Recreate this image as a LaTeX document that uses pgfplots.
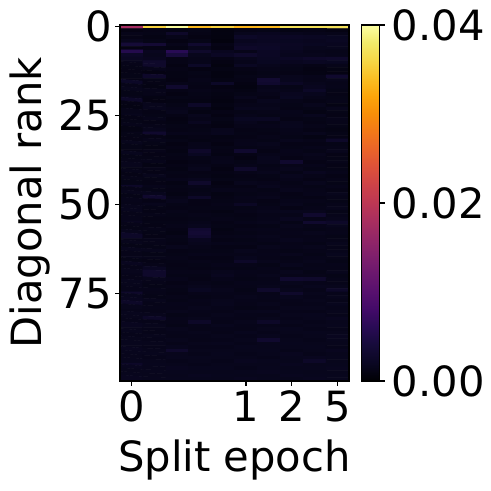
\documentclass[border=0pt]{standalone}
\usepackage{fontspec}
\setmainfont{DejaVu Sans}
\usepackage{pgfplots}
\usepackage{pgfplotstable}
\pgfplotsset{compat=1.18}

\pgfplotstableread[row sep=\\, header=false]{
0.0176\\ 0.0356\\ 0.0398\\ 0.0336\\ 0.0356\\ 0.0332\\ 0.0334\\ 0.0370\\ 0.0370\\ 0.0372\\
0.0010\\ 0.0012\\ 0.0011\\ 0.0013\\ 0.0008\\ 0.0012\\ 0.0013\\ 0.0011\\ 0.0012\\ 0.0010\\
0.0014\\ 0.0013\\ 0.0026\\ 0.0012\\ 0.0009\\ 0.0016\\ 0.0018\\ 0.0016\\ 0.0015\\ 0.0014\\
0.0012\\ 0.0011\\ 0.0014\\ 0.0010\\ 0.0008\\ 0.0024\\ 0.0021\\ 0.0022\\ 0.0020\\ 0.0019\\
0.0016\\ 0.0013\\ 0.0010\\ 0.0013\\ 0.0007\\ 0.0018\\ 0.0020\\ 0.0019\\ 0.0018\\ 0.0020\\
0.0038\\ 0.0036\\ 0.0014\\ 0.0030\\ 0.0012\\ 0.0022\\ 0.0023\\ 0.0021\\ 0.0019\\ 0.0018\\
0.0010\\ 0.0012\\ 0.0011\\ 0.0016\\ 0.0010\\ 0.0026\\ 0.0024\\ 0.0020\\ 0.0016\\ 0.0017\\
0.0055\\ 0.0018\\ 0.0060\\ 0.0028\\ 0.0018\\ 0.0014\\ 0.0022\\ 0.0018\\ 0.0015\\ 0.0014\\
0.0024\\ 0.0016\\ 0.0042\\ 0.0016\\ 0.0022\\ 0.0028\\ 0.0022\\ 0.0017\\ 0.0016\\ 0.0015\\
0.0020\\ 0.0018\\ 0.0012\\ 0.0014\\ 0.0012\\ 0.0016\\ 0.0020\\ 0.0022\\ 0.0026\\ 0.0028\\
0.0017\\ 0.0028\\ 0.0012\\ 0.0015\\ 0.0010\\ 0.0015\\ 0.0019\\ 0.0018\\ 0.0020\\ 0.0019\\
0.0014\\ 0.0028\\ 0.0010\\ 0.0024\\ 0.0008\\ 0.0020\\ 0.0016\\ 0.0014\\ 0.0012\\ 0.0014\\
0.0013\\ 0.0015\\ 0.0012\\ 0.0010\\ 0.0011\\ 0.0012\\ 0.0014\\ 0.0013\\ 0.0010\\ 0.0011\\
0.0012\\ 0.0010\\ 0.0011\\ 0.0013\\ 0.0009\\ 0.0011\\ 0.0013\\ 0.0012\\ 0.0011\\ 0.0010\\
0.0013\\ 0.0027\\ 0.0011\\ 0.0012\\ 0.0009\\ 0.0013\\ 0.0014\\ 0.0016\\ 0.0015\\ 0.0030\\
0.0012\\ 0.0013\\ 0.0010\\ 0.0014\\ 0.0011\\ 0.0012\\ 0.0033\\ 0.0017\\ 0.0014\\ 0.0016\\
0.0024\\ 0.0012\\ 0.0014\\ 0.0013\\ 0.0024\\ 0.0010\\ 0.0030\\ 0.0022\\ 0.0016\\ 0.0014\\
0.0014\\ 0.0011\\ 0.0030\\ 0.0012\\ 0.0010\\ 0.0009\\ 0.0015\\ 0.0013\\ 0.0018\\ 0.0015\\
0.0016\\ 0.0015\\ 0.0012\\ 0.0014\\ 0.0012\\ 0.0011\\ 0.0016\\ 0.0015\\ 0.0024\\ 0.0013\\
0.0013\\ 0.0014\\ 0.0010\\ 0.0013\\ 0.0011\\ 0.0013\\ 0.0014\\ 0.0018\\ 0.0017\\ 0.0012\\
0.0015\\ 0.0011\\ 0.0013\\ 0.0012\\ 0.0010\\ 0.0016\\ 0.0012\\ 0.0019\\ 0.0014\\ 0.0013\\
0.0025\\ 0.0010\\ 0.0011\\ 0.0011\\ 0.0009\\ 0.0012\\ 0.0017\\ 0.0014\\ 0.0012\\ 0.0014\\
0.0012\\ 0.0016\\ 0.0013\\ 0.0025\\ 0.0011\\ 0.0014\\ 0.0015\\ 0.0013\\ 0.0016\\ 0.0011\\
0.0011\\ 0.0017\\ 0.0015\\ 0.0013\\ 0.0009\\ 0.0017\\ 0.0016\\ 0.0012\\ 0.0013\\ 0.0016\\
0.0014\\ 0.0012\\ 0.0016\\ 0.0011\\ 0.0012\\ 0.0013\\ 0.0014\\ 0.0015\\ 0.0011\\ 0.0013\\
0.0016\\ 0.0013\\ 0.0012\\ 0.0016\\ 0.0010\\ 0.0015\\ 0.0013\\ 0.0014\\ 0.0017\\ 0.0012\\
0.0012\\ 0.0015\\ 0.0010\\ 0.0014\\ 0.0013\\ 0.0019\\ 0.0020\\ 0.0012\\ 0.0013\\ 0.0015\\
0.0013\\ 0.0012\\ 0.0011\\ 0.0018\\ 0.0011\\ 0.0016\\ 0.0013\\ 0.0016\\ 0.0012\\ 0.0014\\
0.0015\\ 0.0014\\ 0.0013\\ 0.0012\\ 0.0010\\ 0.0014\\ 0.0015\\ 0.0017\\ 0.0014\\ 0.0013\\
0.0011\\ 0.0016\\ 0.0012\\ 0.0013\\ 0.0016\\ 0.0012\\ 0.0013\\ 0.0015\\ 0.0012\\ 0.0011\\
0.0014\\ 0.0030\\ 0.0015\\ 0.0014\\ 0.0017\\ 0.0013\\ 0.0012\\ 0.0014\\ 0.0016\\ 0.0013\\
0.0013\\ 0.0012\\ 0.0011\\ 0.0012\\ 0.0011\\ 0.0012\\ 0.0014\\ 0.0013\\ 0.0011\\ 0.0012\\
0.0012\\ 0.0015\\ 0.0013\\ 0.0011\\ 0.0012\\ 0.0014\\ 0.0013\\ 0.0016\\ 0.0014\\ 0.0025\\
0.0016\\ 0.0013\\ 0.0010\\ 0.0014\\ 0.0010\\ 0.0015\\ 0.0016\\ 0.0012\\ 0.0012\\ 0.0013\\
0.0013\\ 0.0011\\ 0.0012\\ 0.0015\\ 0.0013\\ 0.0013\\ 0.0014\\ 0.0013\\ 0.0015\\ 0.0014\\
0.0012\\ 0.0014\\ 0.0011\\ 0.0026\\ 0.0012\\ 0.0030\\ 0.0012\\ 0.0015\\ 0.0013\\ 0.0016\\
0.0017\\ 0.0012\\ 0.0013\\ 0.0019\\ 0.0011\\ 0.0012\\ 0.0015\\ 0.0014\\ 0.0016\\ 0.0012\\
0.0013\\ 0.0013\\ 0.0012\\ 0.0013\\ 0.0014\\ 0.0010\\ 0.0017\\ 0.0012\\ 0.0014\\ 0.0013\\
0.0014\\ 0.0015\\ 0.0010\\ 0.0012\\ 0.0015\\ 0.0013\\ 0.0016\\ 0.0030\\ 0.0012\\ 0.0014\\
0.0016\\ 0.0011\\ 0.0012\\ 0.0014\\ 0.0012\\ 0.0015\\ 0.0013\\ 0.0014\\ 0.0015\\ 0.0012\\
0.0013\\ 0.0014\\ 0.0011\\ 0.0016\\ 0.0010\\ 0.0028\\ 0.0014\\ 0.0016\\ 0.0013\\ 0.0013\\
0.0015\\ 0.0012\\ 0.0013\\ 0.0012\\ 0.0012\\ 0.0014\\ 0.0016\\ 0.0013\\ 0.0018\\ 0.0015\\
0.0012\\ 0.0016\\ 0.0012\\ 0.0013\\ 0.0011\\ 0.0012\\ 0.0013\\ 0.0017\\ 0.0014\\ 0.0012\\
0.0014\\ 0.0013\\ 0.0015\\ 0.0017\\ 0.0013\\ 0.0013\\ 0.0012\\ 0.0015\\ 0.0012\\ 0.0014\\
0.0013\\ 0.0012\\ 0.0011\\ 0.0028\\ 0.0010\\ 0.0016\\ 0.0015\\ 0.0013\\ 0.0016\\ 0.0013\\
0.0025\\ 0.0015\\ 0.0013\\ 0.0015\\ 0.0012\\ 0.0012\\ 0.0017\\ 0.0014\\ 0.0013\\ 0.0015\\
0.0014\\ 0.0013\\ 0.0012\\ 0.0013\\ 0.0015\\ 0.0014\\ 0.0013\\ 0.0016\\ 0.0014\\ 0.0012\\
0.0016\\ 0.0017\\ 0.0011\\ 0.0014\\ 0.0011\\ 0.0013\\ 0.0014\\ 0.0012\\ 0.0015\\ 0.0016\\
0.0013\\ 0.0030\\ 0.0014\\ 0.0025\\ 0.0012\\ 0.0015\\ 0.0016\\ 0.0013\\ 0.0012\\ 0.0014\\
0.0015\\ 0.0012\\ 0.0016\\ 0.0012\\ 0.0013\\ 0.0014\\ 0.0012\\ 0.0015\\ 0.0014\\ 0.0013\\
0.0014\\ 0.0016\\ 0.0013\\ 0.0012\\ 0.0014\\ 0.0022\\ 0.0013\\ 0.0016\\ 0.0013\\ 0.0015\\
0.0016\\ 0.0013\\ 0.0012\\ 0.0013\\ 0.0013\\ 0.0013\\ 0.0015\\ 0.0012\\ 0.0014\\ 0.0016\\
0.0017\\ 0.0012\\ 0.0014\\ 0.0012\\ 0.0011\\ 0.0014\\ 0.0016\\ 0.0017\\ 0.0016\\ 0.0013\\
0.0014\\ 0.0014\\ 0.0013\\ 0.0014\\ 0.0013\\ 0.0012\\ 0.0014\\ 0.0014\\ 0.0030\\ 0.0015\\
0.0015\\ 0.0012\\ 0.0012\\ 0.0013\\ 0.0014\\ 0.0013\\ 0.0015\\ 0.0018\\ 0.0014\\ 0.0016\\
0.0018\\ 0.0013\\ 0.0013\\ 0.0015\\ 0.0012\\ 0.0015\\ 0.0016\\ 0.0013\\ 0.0030\\ 0.0025\\
0.0014\\ 0.0012\\ 0.0014\\ 0.0017\\ 0.0013\\ 0.0012\\ 0.0013\\ 0.0016\\ 0.0014\\ 0.0017\\
0.0013\\ 0.0014\\ 0.0012\\ 0.0032\\ 0.0011\\ 0.0014\\ 0.0015\\ 0.0014\\ 0.0013\\ 0.0014\\
0.0016\\ 0.0013\\ 0.0011\\ 0.0035\\ 0.0012\\ 0.0013\\ 0.0014\\ 0.0015\\ 0.0016\\ 0.0015\\
0.0025\\ 0.0012\\ 0.0014\\ 0.0030\\ 0.0014\\ 0.0015\\ 0.0016\\ 0.0014\\ 0.0014\\ 0.0013\\
0.0014\\ 0.0015\\ 0.0013\\ 0.0018\\ 0.0012\\ 0.0013\\ 0.0015\\ 0.0017\\ 0.0015\\ 0.0014\\
0.0016\\ 0.0014\\ 0.0012\\ 0.0016\\ 0.0015\\ 0.0014\\ 0.0013\\ 0.0014\\ 0.0013\\ 0.0016\\
0.0013\\ 0.0013\\ 0.0016\\ 0.0014\\ 0.0012\\ 0.0012\\ 0.0016\\ 0.0015\\ 0.0016\\ 0.0014\\
0.0017\\ 0.0016\\ 0.0012\\ 0.0013\\ 0.0013\\ 0.0016\\ 0.0014\\ 0.0013\\ 0.0014\\ 0.0015\\
0.0014\\ 0.0013\\ 0.0013\\ 0.0015\\ 0.0014\\ 0.0014\\ 0.0015\\ 0.0016\\ 0.0013\\ 0.0017\\
0.0016\\ 0.0015\\ 0.0014\\ 0.0012\\ 0.0012\\ 0.0017\\ 0.0014\\ 0.0013\\ 0.0015\\ 0.0014\\
0.0013\\ 0.0012\\ 0.0013\\ 0.0014\\ 0.0013\\ 0.0025\\ 0.0016\\ 0.0014\\ 0.0016\\ 0.0013\\
0.0018\\ 0.0014\\ 0.0012\\ 0.0013\\ 0.0015\\ 0.0014\\ 0.0013\\ 0.0017\\ 0.0014\\ 0.0015\\
0.0014\\ 0.0020\\ 0.0013\\ 0.0012\\ 0.0013\\ 0.0013\\ 0.0015\\ 0.0013\\ 0.0015\\ 0.0014\\
0.0016\\ 0.0028\\ 0.0014\\ 0.0014\\ 0.0016\\ 0.0015\\ 0.0014\\ 0.0016\\ 0.0013\\ 0.0016\\
0.0015\\ 0.0028\\ 0.0013\\ 0.0013\\ 0.0018\\ 0.0014\\ 0.0016\\ 0.0014\\ 0.0014\\ 0.0013\\
0.0014\\ 0.0016\\ 0.0015\\ 0.0012\\ 0.0015\\ 0.0013\\ 0.0014\\ 0.0030\\ 0.0028\\ 0.0015\\
0.0017\\ 0.0014\\ 0.0012\\ 0.0014\\ 0.0013\\ 0.0015\\ 0.0015\\ 0.0016\\ 0.0015\\ 0.0014\\
0.0016\\ 0.0013\\ 0.0014\\ 0.0016\\ 0.0014\\ 0.0014\\ 0.0016\\ 0.0014\\ 0.0017\\ 0.0016\\
0.0015\\ 0.0015\\ 0.0013\\ 0.0019\\ 0.0016\\ 0.0013\\ 0.0028\\ 0.0016\\ 0.0014\\ 0.0025\\
0.0028\\ 0.0014\\ 0.0012\\ 0.0014\\ 0.0015\\ 0.0014\\ 0.0014\\ 0.0028\\ 0.0016\\ 0.0015\\
0.0017\\ 0.0013\\ 0.0014\\ 0.0013\\ 0.0014\\ 0.0016\\ 0.0015\\ 0.0017\\ 0.0015\\ 0.0016\\
0.0018\\ 0.0016\\ 0.0013\\ 0.0015\\ 0.0016\\ 0.0015\\ 0.0014\\ 0.0015\\ 0.0016\\ 0.0014\\
0.0025\\ 0.0014\\ 0.0015\\ 0.0014\\ 0.0017\\ 0.0014\\ 0.0016\\ 0.0014\\ 0.0015\\ 0.0017\\
0.0016\\ 0.0015\\ 0.0014\\ 0.0016\\ 0.0015\\ 0.0013\\ 0.0014\\ 0.0016\\ 0.0016\\ 0.0015\\
0.0015\\ 0.0014\\ 0.0016\\ 0.0015\\ 0.0014\\ 0.0016\\ 0.0017\\ 0.0015\\ 0.0014\\ 0.0016\\
0.0017\\ 0.0016\\ 0.0013\\ 0.0014\\ 0.0016\\ 0.0015\\ 0.0014\\ 0.0016\\ 0.0017\\ 0.0015\\
0.0016\\ 0.0025\\ 0.0015\\ 0.0016\\ 0.0015\\ 0.0014\\ 0.0016\\ 0.0015\\ 0.0016\\ 0.0018\\
0.0015\\ 0.0014\\ 0.0014\\ 0.0025\\ 0.0014\\ 0.0016\\ 0.0025\\ 0.0016\\ 0.0015\\ 0.0016\\
0.0018\\ 0.0016\\ 0.0013\\ 0.0015\\ 0.0017\\ 0.0015\\ 0.0015\\ 0.0014\\ 0.0016\\ 0.0017\\
0.0016\\ 0.0015\\ 0.0016\\ 0.0014\\ 0.0015\\ 0.0014\\ 0.0016\\ 0.0017\\ 0.0015\\ 0.0015\\
0.0017\\ 0.0014\\ 0.0015\\ 0.0016\\ 0.0014\\ 0.0017\\ 0.0015\\ 0.0016\\ 0.0017\\ 0.0016\\
0.0015\\ 0.0016\\ 0.0014\\ 0.0015\\ 0.0016\\ 0.0015\\ 0.0017\\ 0.0015\\ 0.0016\\ 0.0018\\
0.0016\\ 0.0015\\ 0.0016\\ 0.0014\\ 0.0015\\ 0.0016\\ 0.0030\\ 0.0016\\ 0.0015\\ 0.0017\\
0.0017\\ 0.0016\\ 0.0014\\ 0.0016\\ 0.0017\\ 0.0015\\ 0.0016\\ 0.0017\\ 0.0016\\ 0.0016\\
0.0016\\ 0.0015\\ 0.0017\\ 0.0015\\ 0.0015\\ 0.0017\\ 0.0016\\ 0.0016\\ 0.0017\\ 0.0015\\
0.0018\\ 0.0016\\ 0.0028\\ 0.0016\\ 0.0016\\ 0.0016\\ 0.0017\\ 0.0015\\ 0.0016\\ 0.0018\\
0.0017\\ 0.0017\\ 0.0016\\ 0.0015\\ 0.0017\\ 0.0015\\ 0.0016\\ 0.0018\\ 0.0015\\ 0.0016\\
0.0016\\ 0.0015\\ 0.0017\\ 0.0017\\ 0.0016\\ 0.0016\\ 0.0015\\ 0.0017\\ 0.0018\\ 0.0017\\
0.0017\\ 0.0016\\ 0.0015\\ 0.0016\\ 0.0015\\ 0.0018\\ 0.0017\\ 0.0016\\ 0.0025\\ 0.0016\\
0.0025\\ 0.0017\\ 0.0016\\ 0.0015\\ 0.0016\\ 0.0016\\ 0.0016\\ 0.0018\\ 0.0016\\ 0.0017\\
0.0018\\ 0.0016\\ 0.0018\\ 0.0017\\ 0.0017\\ 0.0015\\ 0.0017\\ 0.0016\\ 0.0017\\ 0.0018\\
0.0016\\ 0.0017\\ 0.0017\\ 0.0016\\ 0.0016\\ 0.0017\\ 0.0018\\ 0.0017\\ 0.0016\\ 0.0016\\
0.0017\\ 0.0016\\ 0.0016\\ 0.0018\\ 0.0017\\ 0.0016\\ 0.0016\\ 0.0018\\ 0.0017\\ 0.0017\\
0.0018\\ 0.0017\\ 0.0017\\ 0.0017\\ 0.0016\\ 0.0018\\ 0.0017\\ 0.0016\\ 0.0018\\ 0.0017\\
}\heatdata

\pgfplotsset{
  colormap={inferno}{
    rgb255=(0,0,4) rgb255=(10,7,34) rgb255=(22,11,57) rgb255=(40,11,84)
    rgb255=(66,10,104) rgb255=(87,16,110) rgb255=(106,23,110) rgb255=(126,31,108)
    rgb255=(147,38,103) rgb255=(168,46,95) rgb255=(188,55,84) rgb255=(205,66,72)
    rgb255=(221,81,58) rgb255=(234,99,42) rgb255=(243,120,25) rgb255=(248,142,9)
    rgb255=(252,165,10) rgb255=(250,190,35) rgb255=(246,215,70) rgb255=(242,234,105)
    rgb255=(252,255,164)
  }
}

\newcommand{\bigfont}{\fontsize{30bp}{36bp}\selectfont}

\begin{document}
\begin{tikzpicture}
\begin{axis}[
  at={(0,0)}, anchor=south west,
  scale only axis,
  width=164.88bp, height=256.32bp,
  xmin=-0.5, xmax=9.5, ymin=-0.5, ymax=99.5,
  y dir=reverse,
  enlargelimits=false,
  axis on top,
  xtick={0,5,7,9}, xticklabels={0,1,2,5},
  ytick={0,25,50,75},
  xtick pos=bottom, ytick pos=left,
  tick align=outside,
  major tick length=3.5bp,
  every tick/.style={black, line width=0.8bp},
  axis line style={line width=0.8bp},
  /pgf/number format/assume math mode=true,
  tick label style={font=\bigfont},
  label style={font=\bigfont},
  yticklabel style={anchor=east, inner sep=0pt, xshift=-2.2bp},
  xticklabel style={anchor=base, inner sep=0pt, yshift=-26bp},
  xlabel={Split epoch},
  ylabel={Diagonal rank},
  xlabel style={at={(axis description cs:0.5,-0.2556)}, anchor=base},
  ylabel style={at={(axis description cs:-0.3406,0.5)}, anchor=base},
  colormap name=inferno,
  point meta min=0, point meta max=0.04,
  colorbar,
  colorbar style={
    at={(parent axis.north east)}, anchor=north west, xshift=0.72bp,
    width=12.96bp,
    ytick={0,0.02,0.04},
    scaled y ticks=false,
    yticklabel pos=right,
    ytick pos=right,
    tick align=outside,
    major tick length=3.5bp,
    every tick/.style={black, line width=0.8bp},
    axis line style={line width=0.8bp},
    /pgf/number format/assume math mode=true,
    yticklabel style={font=\bigfont, anchor=west, inner sep=0pt, xshift=5bp,
      /pgf/number format/.cd, fixed, fixed zerofill, precision=2},
  },
]
\addplot[matrix plot*, mesh/cols=10, point meta=explicit]
  table[x index=0, y index=0, x expr={mod(\coordindex,10)}, y expr={floor(\coordindex/10)}, meta index=0] {\heatdata};
\end{axis}
\pgfresetboundingbox
\useasboundingbox (-86.4bp,-79.2bp) rectangle (267.12bp,274.32bp);
\end{tikzpicture}
\end{document}
